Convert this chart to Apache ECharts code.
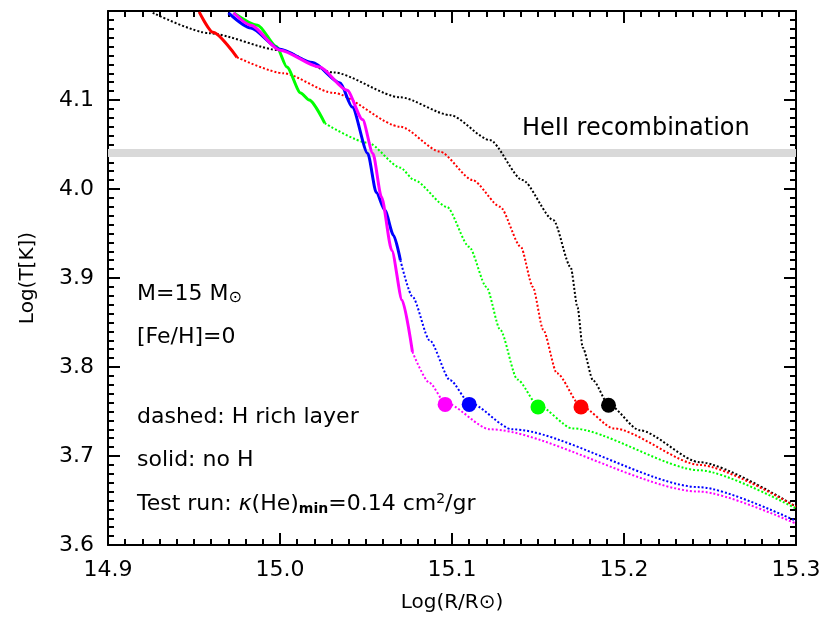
<!DOCTYPE html><html><head><meta charset="utf-8"><script src="https://cdn.jsdelivr.net/npm/echarts@6/dist/echarts.min.js"></script>
<style>html,body{margin:0;background:#fff}#c{width:830px;height:623px}</style></head><body><div id="c"></div><script>
const blackDot=[[14.926,4.198],[14.959,4.175],[15.000,4.156],[15.031,4.131],[15.070,4.103],[15.099,4.083],[15.122,4.055],[15.141,4.010],[15.159,3.965],[15.169,3.912],[15.173,3.867],[15.176,3.822],[15.182,3.785],[15.191,3.758],[15.209,3.729],[15.244,3.693],[15.3,3.643]];
const redSolid=[[14.953,4.199],[14.961,4.176],[14.975,4.148]];
const redDot=[[14.975,4.148],[15.002,4.130],[15.031,4.108],[15.070,4.070],[15.093,4.042],[15.112,4.010],[15.128,3.980],[15.140,3.935],[15.147,3.890],[15.153,3.842],[15.161,3.793],[15.175,3.756],[15.194,3.731],[15.244,3.690],[15.3,3.643]];
const greenSolid=[[14.973,4.198],[14.987,4.184],[14.998,4.160],[15.004,4.137],[15.012,4.108],[15.017,4.100],[15.026,4.074]];
const greenDot=[[15.026,4.074],[15.051,4.052],[15.070,4.024],[15.078,4.010],[15.097,3.980],[15.110,3.935],[15.120,3.890],[15.128,3.842],[15.138,3.786],[15.150,3.757],[15.170,3.731],[15.244,3.684],[15.3,3.641]];
const blueSolid=[[14.970,4.198],[14.983,4.181],[15.000,4.157],[15.019,4.142],[15.035,4.119],[15.042,4.092],[15.051,4.040],[15.056,3.996],[15.061,3.976],[15.066,3.948],[15.070,3.920]];
const blueDot=[[15.070,3.920],[15.077,3.879],[15.087,3.830],[15.099,3.785],[15.110,3.760],[15.135,3.730],[15.244,3.665],[15.3,3.627]];
const magSolid=[[14.973,4.198],[14.983,4.184],[15.000,4.156],[15.023,4.137],[15.039,4.111],[15.048,4.078],[15.054,4.040],[15.059,3.991],[15.065,3.931],[15.071,3.875],[15.077,3.817]];
const magDot=[[15.077,3.817],[15.087,3.782],[15.096,3.760],[15.122,3.730],[15.244,3.660],[15.3,3.624]];
const markers=[[15.096,3.758,'#ff00ff'],[15.110,3.758,'#0000ff'],[15.150,3.755,'#00ff00'],[15.175,3.755,'#ff0000'],[15.191,3.757,'#000000']];
const band=[4.036,4.045];
const F='"DejaVu Sans", sans-serif';
const FS=22;
const ch=echarts.init(document.getElementById('c'));
function L(d,c,dot){return {type:'line',data:d,symbol:'none',smooth:0.25,smoothMonotone:'x',z:dot?2:3,lineStyle:{color:c,width:dot?2:3,type:dot?[2,2]:'solid'}};}
const ax={axisLine:{lineStyle:{color:'#000',width:2}},axisTick:{inside:true,length:12,lineStyle:{color:'#000',width:2}},minorTick:{show:true,splitNumber:10,length:6,lineStyle:{color:'#000',width:2}},splitLine:{show:false}};
const lab={fontSize:FS,fontFamily:F,color:'#000',margin:14};
const series=[L(blackDot,'#000',1),L(redDot,'#ff0000',1),L(redSolid,'#ff0000',0),L(greenDot,'#00ff00',1),L(greenSolid,'#00ff00',0),L(blueDot,'#0000ff',1),L(blueSolid,'#0000ff',0),L(magDot,'#ff00ff',1),L(magSolid,'#ff00ff',0),
{type:'scatter',data:markers.map(m=>({value:[m[0],m[1]],itemStyle:{color:m[2],opacity:1}})),symbolSize:15,z:5},
{type:'line',data:[],markArea:{silent:true,itemStyle:{color:'#d9d9d9'},data:[[{yAxis:band[0]},{yAxis:band[1]}]]},z:1}];
ch.setOption({animation:false,
grid:{left:108,right:34,top:11,bottom:78},
xAxis:[Object.assign({},ax,{type:'value',min:14.9,max:15.3,interval:0.1,position:'bottom',name:'Log(R/R\u2299)',nameLocation:'middle',nameGap:48,nameTextStyle:{fontSize:20,fontFamily:F,color:'#000'},axisLabel:Object.assign({},lab,{formatter:v=>v.toFixed(1)})}),
Object.assign({},ax,{type:'value',min:14.9,max:15.3,interval:0.1,position:'top',axisLabel:{show:false}})],
yAxis:[Object.assign({},ax,{type:'value',min:3.6,max:4.2,interval:0.1,position:'left',name:'Log(T[K])',nameLocation:'middle',nameGap:70,nameTextStyle:{fontSize:20,fontFamily:F,color:'#000'},axisLabel:Object.assign({},lab,{showMaxLabel:false,formatter:v=>v.toFixed(1)})}),
Object.assign({},ax,{type:'value',min:3.6,max:4.2,interval:0.1,position:'right',axisLabel:{show:false}})],
series:series,
graphic:[
{type:'text',left:522,top:117,style:{text:'HeII recombination',font:'24px '+F,fill:'#000'}},
{type:'text',left:137,top:283,style:{text:'{a|M=15 M}{s|\u2299}',rich:{a:{font:FS+'px '+F,fill:'#000'},s:{font:'16px '+F,fill:'#000',padding:[8,0,0,0]}}}},
{type:'text',left:137,top:326,style:{text:'[Fe/H]=0',font:FS+'px '+F,fill:'#000'}},
{type:'text',left:137,top:406,style:{text:'dashed: H rich layer',font:FS+'px '+F,fill:'#000'}},
{type:'text',left:137,top:449,style:{text:'solid: no H',font:FS+'px '+F,fill:'#000'}},
{type:'text',left:137,top:492,style:{text:'{a|Test run: }{k|\u03ba}{a|(He)}{s|min}{a|=0.14 cm}{p|2}{a|/gr}',rich:{a:{font:FS+'px '+F,fill:'#000'},k:{font:'italic '+FS+'px '+F,fill:'#000'},s:{font:'bold 14px '+F,fill:'#000',padding:[10,0,0,0]},p:{font:'14px '+F,fill:'#000',padding:[0,0,10,0]}}}}
]});
</script></body></html>
